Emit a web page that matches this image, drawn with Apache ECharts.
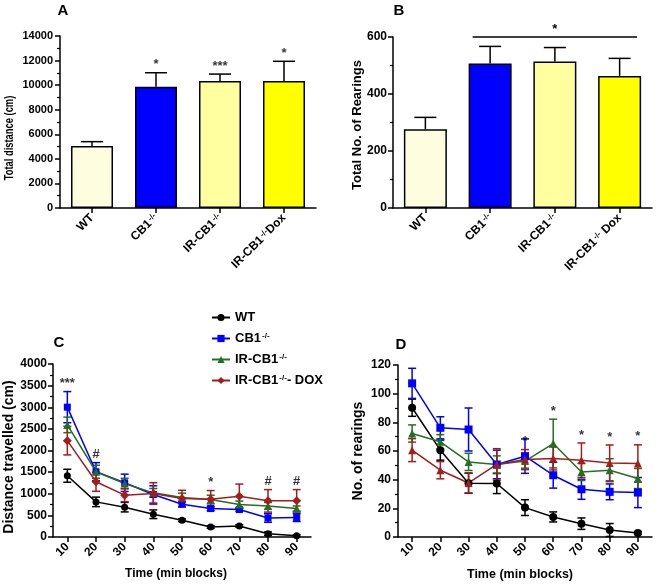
<!DOCTYPE html>
<html><head><meta charset="utf-8">
<script src="https://cdn.jsdelivr.net/npm/echarts@6/dist/echarts.min.js"></script>
<style>html,body{margin:0;padding:0;background:#fff}#c{width:660px;height:586px}</style>
</head><body><div id="c"></div>
<script>
// ---------- DATA ----------
const barCategoriesA = ['WT', 'CB1-/-', 'IR-CB1-/-', 'IR-CB1-/-Dox'];
const barCategoriesB = ['WT', 'CB1-/-', 'IR-CB1-/-', 'IR-CB1-/- Dox'];
const totalDistance = [5050, 9870, 10340, 10340];
const totalDistanceErr = [350, 1140, 560, 1600];
const totalRearings = [276, 507, 514, 463];
const totalRearingsErr = [42, 60, 49, 62];
const annACats = [1, 2, 3];
const annATexts = ['*', '***', '*'];
const sigLineB = [1, 3, 600]; // from category, to category, level
const sigTextB = '*';

const timeBlocks = ['10', '20', '30', '40', '50', '60', '70', '80', '90'];
const groupNames = ['WT', 'CB1-/-', 'IR-CB1-/-', 'IR-CB1-/-- DOX'];

const distWT = [1416, 812, 690, 526, 387, 232, 255, 77, 31];
const distWTErr = [150, 110, 110, 100, 30, 30, 30, 40, 20];
const distCB1 = [3002, 1509, 1253, 983, 758, 658, 634, 441, 449];
const distCB1Err = [360, 210, 200, 200, 60, 50, 40, 100, 90];
const distIR = [2592, 1509, 1238, 1021, 913, 866, 750, 719, 658];
const distIRErr = [180, 150, 120, 100, 100, 100, 80, 80, 60];
const distDOX = [2228, 1277, 967, 1006, 890, 874, 944, 836, 836];
const distDOXErr = [330, 220, 150, 250, 190, 200, 280, 260, 260];
const annCCats = [0, 1, 5, 7, 8];
const annCSeries = [1, 1, 3, 3, 3];
const annCTexts = ['***', '#', '*', '#', '#'];

const rearWT = [90.2, 60.6, 37.5, 37.3, 20.5, 14, 9.3, 4.9, 2.8];
const rearWTErr = [6, 7, 7, 7, 5.5, 3.5, 4, 4.5, 1];
const rearCB1 = [107.2, 76.2, 75, 50.6, 56.4, 43.1, 33.3, 31.5, 31];
const rearCB1Err = [10.5, 7.7, 15, 10, 12, 9, 7, 5.5, 10.5];
const rearIR = [72.2, 66.4, 52.4, 50.6, 53, 65.2, 45.4, 46.6, 40.8];
const rearIRErr = [6, 5, 6, 6, 5, 17, 6, 8, 7];
const rearDOX = [60.6, 46.6, 37.7, 50.6, 54, 54.8, 53.6, 51.7, 51.3];
const rearDOXErr = [8, 6, 7, 11, 7, 8, 12, 12.5, 13];
const annDCats = [4, 5, 6, 7, 8];
const annDSeries = [3, 2, 3, 3, 3];
const annDTexts = ['*', '*', '*', '*', '*'];

// ---------- STYLE ----------
const FONT = 'Liberation Sans, Arial, sans-serif';
const barColors = ['#FFFDE0', '#0000FF', '#FFFFA0', '#FFFF00'];
const lineColors = ['#000000', '#0000FF', '#237023', '#A51C1C'];
const symbolsC = ['circle', 'rect', 'triangle', 'diamond'];
const symbolSizesC = [7, 7, 8, 9];
const symbolsD = ['circle', 'rect', 'triangle', 'triangle'];
const symbolSizesD = [8, 8, 8, 8];

const supRich = {
  s: { fontSize: 8, fontWeight: 'bold', fontFamily: FONT, color: '#000', verticalAlign: 'top', padding: [0, 0, 0, 1] }
};
const supFmt = v => v.replace(/-\/-/g, '{s|-/-}');

function errorBarItem(capWidth, upOnly, lw) {
  return function (params, api) {
    const x = api.value(0), m = api.value(1), e = api.value(2);
    const hi = api.coord([x, m + e]);
    const lo = api.coord([x, upOnly ? m : m - e]);
    const col = api.visual('color');
    const mk = (x1, y1, x2, y2) => ({ type: 'line', shape: { x1, y1, x2, y2 }, style: { stroke: col, lineWidth: lw } });
    const ch = [mk(hi[0], hi[1], lo[0], lo[1]), mk(hi[0] - capWidth / 2, hi[1], hi[0] + capWidth / 2, hi[1])];
    if (!upOnly) ch.push(mk(lo[0] - capWidth / 2, lo[1], lo[0] + capWidth / 2, lo[1]));
    return { type: 'group', children: ch };
  };
}

const axisLineStyle = { show: true, lineStyle: { color: '#000', width: 1.5 } };
function yAxisCfg(gi, max, interval, fs, margin) {
  return {
    type: 'value', gridIndex: gi, min: 0, max: max, interval: interval,
    axisLine: axisLineStyle,
    axisTick: { show: true, length: 5, lineStyle: { color: '#000', width: 1.5 } },
    minorTick: { show: true, splitNumber: 2, length: 3, lineStyle: { color: '#000', width: 1.2 } },
    splitLine: { show: false },
    axisLabel: { fontSize: fs, fontWeight: 'bold', fontFamily: FONT, color: '#000', margin: margin,
      formatter: v => String(v) }
  };
}
function xAxisCfg(gi, cats, fs, rich) {
  return {
    type: 'category', gridIndex: gi, data: cats, boundaryGap: true,
    axisLine: axisLineStyle,
    axisTick: { show: true, alignWithLabel: true, length: 5, interval: 0, lineStyle: { color: '#000', width: 1.5 } },
    axisLabel: {
      interval: 0, rotate: 45, margin: 8, fontSize: fs, fontWeight: 'bold', fontFamily: FONT, color: '#000',
      formatter: rich ? supFmt : undefined, rich: rich ? supRich : undefined
    }
  };
}

const annLabel = texts => ({
  show: true, position: 'top', distance: 1, fontSize: 13, fontWeight: 'bold', fontFamily: FONT, color: '#000',
  formatter: p => texts[p.dataIndex]
});

const series = [];
// Panels C and D lines (line series first so the legend uses their icons)
const distMeans = [distWT, distCB1, distIR, distDOX];
const distErrs = [distWTErr, distCB1Err, distIRErr, distDOXErr];
const rearMeans = [rearWT, rearCB1, rearIR, rearDOX];
const rearErrs = [rearWTErr, rearCB1Err, rearIRErr, rearDOXErr];

function addLines(gi, means, symbols, sizes) {
  means.forEach((m, k) => {
    series.push({
      type: 'line', name: groupNames[k], xAxisIndex: gi, yAxisIndex: gi, data: m,
      symbol: symbols[k], symbolSize: sizes[k], showSymbol: true,
      itemStyle: { color: lineColors[k] }, lineStyle: { color: lineColors[k], width: 1.5 }, z: 3, silent: true
    });
  });
}
function addErrs(gi, means, errs) {
  means.forEach((m, k) => {
    series.push({
      type: 'custom', name: groupNames[k], xAxisIndex: gi, yAxisIndex: gi, itemStyle: { color: lineColors[k] },
      silent: true, z: 2, renderItem: errorBarItem(8, false, 1.5),
      data: m.map((v, i) => [i, v, errs[k][i]])
    });
  });
}
addLines(2, distMeans, symbolsC, symbolSizesC);
addLines(3, rearMeans, symbolsD, symbolSizesD);
addErrs(2, distMeans, distErrs);
addErrs(3, rearMeans, rearErrs);

series.push({
  type: 'scatter', xAxisIndex: 2, yAxisIndex: 2, symbolSize: 1, itemStyle: { color: 'rgba(0,0,0,0)' }, silent: true, z: 5,
  data: annCCats.map((c, j) => [c, distMeans[annCSeries[j]][c] + distErrs[annCSeries[j]][c]]),
  label: annLabel(annCTexts)
});
series.push({
  type: 'scatter', xAxisIndex: 3, yAxisIndex: 3, symbolSize: 1, itemStyle: { color: 'rgba(0,0,0,0)' }, silent: true, z: 5,
  data: annDCats.map((c, j) => [c, rearMeans[annDSeries[j]][c] + rearErrs[annDSeries[j]][c]]),
  label: annLabel(annDTexts)
});

// Panel A bars
series.push({
  type: 'bar', xAxisIndex: 0, yAxisIndex: 0, barWidth: 42,
  data: totalDistance.map((v, i) => ({ value: v, itemStyle: { color: barColors[i] } })),
  itemStyle: { borderColor: '#000', borderWidth: 1.5 }, silent: true
});
series.push({
  type: 'custom', xAxisIndex: 0, yAxisIndex: 0, itemStyle: { color: '#000' }, silent: true, z: 3,
  renderItem: errorBarItem(22, true, 1.5),
  data: totalDistance.map((v, i) => [i, v, totalDistanceErr[i]])
});
series.push({
  type: 'scatter', xAxisIndex: 0, yAxisIndex: 0, symbolSize: 1, itemStyle: { color: 'rgba(0,0,0,0)' }, silent: true, z: 5,
  data: annACats.map(c => [c, totalDistance[c] + totalDistanceErr[c]]),
  label: annLabel(annATexts)
});
// Panel B bars
series.push({
  type: 'bar', xAxisIndex: 1, yAxisIndex: 1, barWidth: 43,
  data: totalRearings.map((v, i) => ({ value: v, itemStyle: { color: barColors[i] } })),
  itemStyle: { borderColor: '#000', borderWidth: 1.5 }, silent: true
});
series.push({
  type: 'custom', xAxisIndex: 1, yAxisIndex: 1, itemStyle: { color: '#000' }, silent: true, z: 3,
  renderItem: errorBarItem(22, true, 1.5),
  data: totalRearings.map((v, i) => [i, v, totalRearingsErr[i]])
});
series.push({
  type: 'custom', xAxisIndex: 1, yAxisIndex: 1, silent: true, z: 3,
  data: [sigLineB],
  renderItem: function (params, api) {
    const a = api.coord([api.value(0), api.value(2)]);
    const b = api.coord([api.value(1), api.value(2)]);
    const ext = api.size([1, 0])[0] * 0.27;
    return { type: 'group', children: [
      { type: 'line', shape: { x1: a[0] - ext, y1: a[1], x2: b[0] + ext, y2: b[1] }, style: { stroke: '#000', lineWidth: 1.5 } },
      { type: 'text', x: (a[0] + b[0]) / 2, y: a[1] - 1, style: { text: sigTextB, align: 'center', verticalAlign: 'bottom', fontSize: 13, fontWeight: 'bold', fontFamily: FONT, fill: '#000' } }
    ] };
  }
});

function gtext(text, x, y, fs, rot, sx) {
  return { type: 'text', x: x, y: y, rotation: rot || 0, scaleX: sx || 1,
    style: { text: text, align: 'center', verticalAlign: 'middle', fontSize: fs, fontWeight: 'bold', fontFamily: FONT, fill: '#000' } };
}

const option = {
  animation: false,
  backgroundColor: '#fff',
  grid: [
    { left: 60, top: 36, width: 256, height: 172 },
    { left: 393, top: 37, width: 259, height: 171 },
    { left: 53, top: 364, width: 258, height: 173 },
    { left: 398, top: 365, width: 254, height: 172 }
  ],
  xAxis: [
    xAxisCfg(0, barCategoriesA, 12, true),
    xAxisCfg(1, barCategoriesB, 12, true),
    xAxisCfg(2, timeBlocks, 12, false),
    xAxisCfg(3, timeBlocks, 12, false)
  ],
  yAxis: [
    yAxisCfg(0, 14000, 2000, 11, 7),
    yAxisCfg(1, 600, 200, 12, 6),
    yAxisCfg(2, 4000, 500, 12, 6),
    yAxisCfg(3, 120, 20, 12, 7)
  ],
  legend: {
    orient: 'vertical', left: 206, top: 306, itemWidth: 18, itemHeight: 9, itemGap: 8,
    data: groupNames.map(n => ({ name: n })),
    formatter: supFmt,
    textStyle: { fontSize: 13, fontWeight: 'bold', fontFamily: FONT, color: '#000', rich: supRich },
    selectedMode: false
  },
  graphic: [
    gtext('A', 63, 11, 15),
    gtext('B', 399, 11, 15),
    gtext('C', 59, 343, 15),
    gtext('D', 401, 345, 15),
    gtext('Total distance (cm)', 9.5, 138, 13, Math.PI / 2, 0.72),
    gtext('Total No. of Rearings', 357, 125, 13, Math.PI / 2),
    gtext('Distance travelled (cm)', 9.5, 457, 14, Math.PI / 2),
    gtext('No. of rearings', 358.5, 451, 14, Math.PI / 2),
    gtext('Time (min blocks)', 176, 574, 12),
    gtext('Time (min blocks)', 520, 575, 12.5)
  ],
  series: series
};
const chart = echarts.init(document.getElementById('c'), null, { renderer: 'canvas' });
chart.setOption(option);
</script>
</body></html>
